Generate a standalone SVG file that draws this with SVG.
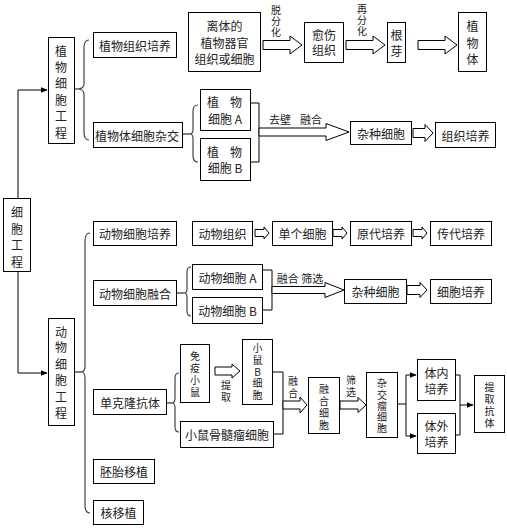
<svg xmlns="http://www.w3.org/2000/svg" width="507" height="528" viewBox="0 0 507 528">
<defs>
<style>
.b{fill:#fff;stroke:#000;stroke-width:1}
.t{font-family:"Noto Sans CJK SC","Noto Sans",sans-serif;font-size:12px;fill:#222;text-anchor:middle;dominant-baseline:central}
.s{font-size:11px}
.v{font-size:10px}
.l{fill:none;stroke:#000;stroke-width:1}
.br{fill:none;stroke:#444;stroke-width:1.2}
.ha{fill:#fff;stroke:#000;stroke-width:1}
</style>
<marker id="ah" viewBox="0 0 10 10" refX="9" refY="5" markerWidth="7" markerHeight="7" orient="auto" markerUnits="userSpaceOnUse"><path d="M0,1 L10,5 L0,9 z" fill="#000"/></marker>
</defs>
<rect width="507" height="528" fill="#fff"/>

<g id="connectors">
<path class="l" d="M18,198 V90 H47" marker-end="url(#ah)"/>
<path class="l" d="M18,272 V373 H47" marker-end="url(#ah)"/>
<path class="l" d="M74,89 H77"/>
<path class="br" d="M89,40 Q84,40 84,48 V84 Q84,89 77,89 Q84,89 84,94 V132 Q84,140 89,140"/>
<path class="l" d="M74,372 H81"/>
<path class="br" d="M90,233 Q85,233 85,241 V366 Q85,372 81,372 Q85,372 85,378 V505 Q85,513 90,513"/>
<path class="l" d="M182,134 H190"/>
<path class="br" d="M198,105 Q193,105 193,111 V129 Q193,134 190,134 Q193,134 193,139 V156 Q193,162 198,162"/>
<path class="l" d="M250,103 H259 V162 H250"/>
<path class="l" d="M176,293 H184"/>
<path class="br" d="M191,267 Q187,267 187,272 V289 Q187,293 184,293 Q187,293 187,297 V311 Q187,316 191,316"/>
<path class="l" d="M262,270 H272 V310 H262"/>
<path class="l" d="M166,403 H172"/>
<path class="br" d="M179,373 Q175,373 175,378 V398 Q175,403 172,403 Q175,403 175,408 V427 Q175,432 179,432"/>
<path class="l" d="M272,372 H283 V434 H273"/>
<path class="l" d="M397,404 H406"/>
<path class="l" d="M406,375 V436"/>
<path class="l" d="M406,375 H416" marker-end="url(#ah)"/>
<path class="l" d="M406,436 H416" marker-end="url(#ah)"/>
<path class="l" d="M455,375 H460 V435 H455"/>
<path class="l" d="M460,405 H473" marker-end="url(#ah)"/>

<polygon class="ha" points="263,40.5 290,40.5 290,36 302,45 290,54 290,49.5 263,49.5"/>
<polygon class="ha" points="346,40.5 373,40.5 373,36 385,45 373,54 373,49.5 346,49.5"/>
<polygon class="ha" points="418,40.5 445,40.5 445,36 457,45 445,54 445,49.5 418,49.5"/>
<polygon class="ha" points="259,128 326,128 326,123.5 349,132 326,140.5 326,136 259,136"/>
<polygon class="ha" points="413,128.5 425,128.5 425,124.5 433,133 425,141.5 425,137.5 413,137.5"/>
<polygon class="ha" points="255,229.5 264,229.5 264,227 269,233 264,239 264,236.5 255,236.5"/>
<polygon class="ha" points="333,229.5 342,229.5 342,227 347,233 342,239 342,236.5 333,236.5"/>
<polygon class="ha" points="413,229.5 422,229.5 422,227 427,233 422,239 422,236.5 413,236.5"/>
<polygon class="ha" points="272,286.5 325,286.5 325,282.5 344,290 325,297.5 325,293.5 272,293.5"/>
<polygon class="ha" points="407,285.5 420,285.5 420,282.5 427,290 420,297.5 420,294.5 407,294.5"/>
<polygon class="ha" points="215,367 232,367 232,364 240,371 232,378 232,375 215,375"/>
<polygon class="ha" points="283,401 300,401 300,397 307,405 300,413 300,409 283,409"/>
<polygon class="ha" points="340,401 358,401 358,397.5 366,405 358,412.5 358,409 340,409"/>

<text class="t v"><tspan x="276" y="9">脱</tspan><tspan x="276" y="20">分</tspan><tspan x="276" y="31">化</tspan></text>
<text class="t v"><tspan x="362" y="8">再</tspan><tspan x="362" y="19">分</tspan><tspan x="362" y="30">化</tspan></text>
<text class="t s" x="280" y="119">去壁</text>
<text class="t s" x="311" y="119">融合</text>
<text class="t s" x="300" y="278">融合 筛选</text>
<text class="t v"><tspan x="226" y="384">提</tspan><tspan x="226" y="396">取</tspan></text>
<text class="t v"><tspan x="293" y="380">融</tspan><tspan x="293" y="392">合</tspan></text>
<text class="t v"><tspan x="351" y="379">筛</tspan><tspan x="351" y="391">选</tspan></text>
</g>

<g id="n-cell-eng"><rect class="b" x="3.5" y="198.5" width="27" height="73"/>
<text class="t"><tspan x="17" y="211">细</tspan><tspan x="17" y="228">胞</tspan><tspan x="17" y="244">工</tspan><tspan x="17" y="261">程</tspan></text></g>

<g id="n-plant-eng"><rect class="b" x="48.5" y="37.5" width="26" height="106"/>
<text class="t"><tspan x="61" y="50">植</tspan><tspan x="61" y="66">物</tspan><tspan x="61" y="82">细</tspan><tspan x="61" y="99">胞</tspan><tspan x="61" y="115">工</tspan><tspan x="61" y="132">程</tspan></text></g>

<g id="n-plant-tissue"><rect class="b" x="93.5" y="32.5" width="83" height="25"/><text class="t" x="135" y="45">植物组织培养</text></g>
<g id="n-explant"><rect class="b" x="188.5" y="12.5" width="72" height="59"/>
<text class="t"><tspan x="224.5" y="25">离体的</tspan><tspan x="224.5" y="42">植物器官</tspan><tspan x="224.5" y="58">组织或细胞</tspan></text></g>
<g id="n-callus"><rect class="b" x="304.5" y="22.5" width="39" height="40"/>
<text class="t"><tspan x="324" y="34">愈伤</tspan><tspan x="324" y="49">组织</tspan></text></g>
<g id="n-rootbud"><rect class="b" x="387.5" y="22.5" width="18" height="40"/>
<text class="t"><tspan x="396.5" y="34">根</tspan><tspan x="396.5" y="50">芽</tspan></text></g>
<g id="n-plant"><rect class="b" x="458.5" y="12.5" width="28" height="59"/>
<text class="t"><tspan x="472.5" y="25">植</tspan><tspan x="472.5" y="42">物</tspan><tspan x="472.5" y="58">体</tspan></text></g>

<g id="n-somatic"><rect class="b" x="93.5" y="122.5" width="89" height="25"/><text class="t" x="137" y="135">植物体细胞杂交</text></g>
<g id="n-plant-a"><rect class="b" x="200.5" y="89.5" width="50" height="41"/>
<text class="t"><tspan x="213" y="101">植</tspan><tspan x="236" y="101">物</tspan><tspan x="225" y="118">细胞 A</tspan></text></g>
<g id="n-plant-b"><rect class="b" x="200.5" y="138.5" width="50" height="42"/>
<text class="t"><tspan x="213" y="151">植</tspan><tspan x="236" y="151">物</tspan><tspan x="225" y="167">细胞 B</tspan></text></g>
<g id="n-hybrid-p"><rect class="b" x="350.5" y="121.5" width="61" height="23"/><text class="t" x="381" y="133">杂种细胞</text></g>
<g id="n-tissue-c"><rect class="b" x="435.5" y="122.5" width="60" height="25"/><text class="t" x="465.5" y="135">组织培养</text></g>

<g id="n-animal-eng"><rect class="b" x="48.5" y="318.5" width="26" height="107"/>
<text class="t"><tspan x="61" y="331">动</tspan><tspan x="61" y="346">物</tspan><tspan x="61" y="363">细</tspan><tspan x="61" y="379">胞</tspan><tspan x="61" y="396">工</tspan><tspan x="61" y="412">程</tspan></text></g>

<g id="n-animal-culture"><rect class="b" x="93.5" y="221.5" width="83" height="24"/><text class="t" x="135" y="233.5">动物细胞培养</text></g>
<g id="n-animal-tissue"><rect class="b" x="192.5" y="221.5" width="60" height="24"/><text class="t" x="222.5" y="233.5">动物组织</text></g>
<g id="n-single"><rect class="b" x="272.5" y="221.5" width="60" height="24"/><text class="t" x="302.5" y="233.5">单个细胞</text></g>
<g id="n-primary"><rect class="b" x="350.5" y="221.5" width="61" height="24"/><text class="t" x="381" y="233.5">原代培养</text></g>
<g id="n-passage"><rect class="b" x="430.5" y="221.5" width="61" height="24"/><text class="t" x="461" y="233.5">传代培养</text></g>

<g id="n-animal-fusion"><rect class="b" x="93.5" y="280.5" width="83" height="25"/><text class="t" x="135" y="293">动物细胞融合</text></g>
<g id="n-animal-a"><rect class="b" x="192.5" y="264.5" width="70" height="25"/><text class="t" x="227.5" y="277">动物细胞 A</text></g>
<g id="n-animal-b"><rect class="b" x="192.5" y="297.5" width="70" height="26"/><text class="t" x="227.5" y="310.5">动物细胞 B</text></g>
<g id="n-hybrid-a"><rect class="b" x="344.5" y="279.5" width="62" height="24"/><text class="t" x="375.5" y="291.5">杂种细胞</text></g>
<g id="n-cell-culture"><rect class="b" x="430.5" y="279.5" width="61" height="24"/><text class="t" x="461" y="291.5">细胞培养</text></g>

<g id="n-mab"><rect class="b" x="93.5" y="389.5" width="73" height="25"/><text class="t" x="130" y="402">单克隆抗体</text></g>
<g id="n-immune"><rect class="b" x="180.5" y="344.5" width="29" height="58"/>
<text class="t v"><tspan x="195" y="355">免</tspan><tspan x="195" y="367">疫</tspan><tspan x="195" y="379">小</tspan><tspan x="195" y="391">鼠</tspan></text></g>
<g id="n-bcell"><rect class="b" x="242.5" y="339.5" width="30" height="65"/>
<text class="t v"><tspan x="257.5" y="347">小</tspan><tspan x="257.5" y="359">鼠</tspan><tspan x="257.5" y="370.5">B</tspan><tspan x="257.5" y="382">细</tspan><tspan x="257.5" y="394">胞</tspan></text></g>
<g id="n-myeloma"><rect class="b" x="180.5" y="421.5" width="93" height="26"/><text class="t" x="227" y="434.5">小鼠骨髓瘤细胞</text></g>
<g id="n-fused"><rect class="b" x="308.5" y="377.5" width="31" height="56"/>
<text class="t v"><tspan x="324" y="388">融</tspan><tspan x="324" y="400">合</tspan><tspan x="324" y="412">细</tspan><tspan x="324" y="424">胞</tspan></text></g>
<g id="n-hybridoma"><rect class="b" x="366.5" y="372.5" width="31" height="65"/>
<text class="t v"><tspan x="382" y="382">杂</tspan><tspan x="382" y="394">交</tspan><tspan x="382" y="405">瘤</tspan><tspan x="382" y="416">细</tspan><tspan x="382" y="427">胞</tspan></text></g>
<g id="n-invivo"><rect class="b" x="417.5" y="359.5" width="38" height="41"/>
<text class="t"><tspan x="436.5" y="372">体内</tspan><tspan x="436.5" y="388">培养</tspan></text></g>
<g id="n-invitro"><rect class="b" x="417.5" y="413.5" width="38" height="40"/>
<text class="t"><tspan x="436.5" y="425">体外</tspan><tspan x="436.5" y="441">培养</tspan></text></g>
<g id="n-extract"><rect class="b" x="474.5" y="375.5" width="30" height="57"/>
<text class="t v"><tspan x="489.5" y="386">提</tspan><tspan x="489.5" y="398">取</tspan><tspan x="489.5" y="410">抗</tspan><tspan x="489.5" y="422">体</tspan></text></g>

<g id="n-embryo"><rect class="b" x="93.5" y="459.5" width="61" height="24"/><text class="t" x="124" y="471.5">胚胎移植</text></g>
<g id="n-nuclear"><rect class="b" x="93.5" y="500.5" width="50" height="24"/><text class="t" x="118.5" y="512.5">核移植</text></g>
</svg>
